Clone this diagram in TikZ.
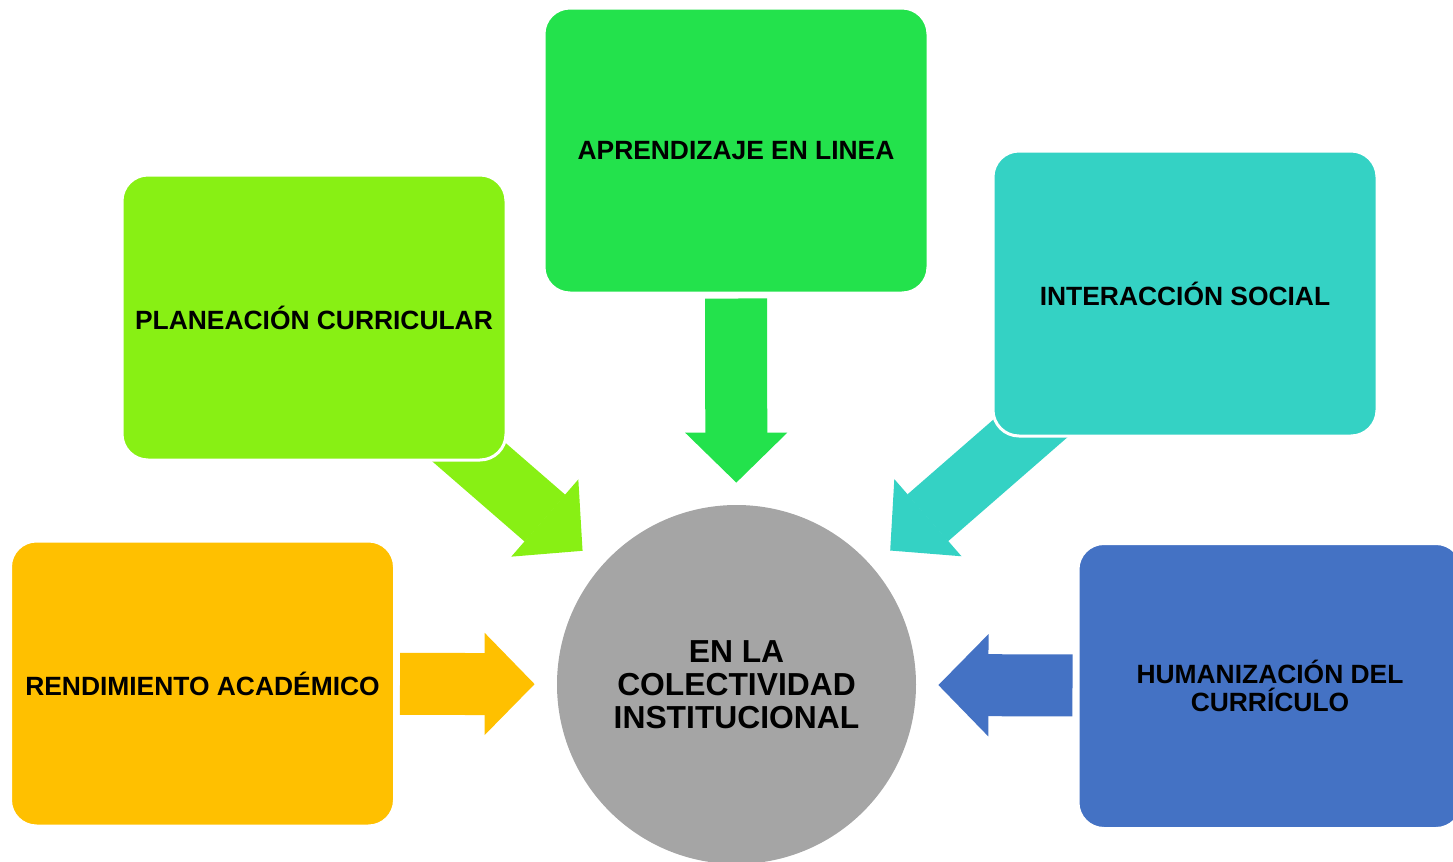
\documentclass[tikz,border=0pt]{standalone}
\usepackage{fontspec}
\setmainfont{Liberation Sans}
\usetikzlibrary{arrows.meta, positioning, backgrounds}

\definecolor{aprgreen}{HTML}{23E24C}
\definecolor{plangreen}{HTML}{88F014}
\definecolor{interteal}{HTML}{34D2C4}
\definecolor{rendorange}{HTML}{FFC000}
\definecolor{humblue}{HTML}{4472C4}
\definecolor{hubgray}{HTML}{A5A5A5}

\begin{document}
\begin{tikzpicture}[x=0.5pt, y=-0.5pt,
  box/.style={rectangle, rounded corners=13pt, draw=white, line width=1.5pt,
    minimum width=192pt, minimum height=142.5pt, inner sep=0pt, align=center,
    font=\fontsize{13.2}{14}\selectfont\bfseries},
  hub/.style={circle, fill=hubgray, minimum size=179.5pt, inner sep=0pt, align=center,
    font=\fontsize{15.9}{16.5}\selectfont\bfseries},
  flow/.style={line width=31pt, -{Triangle[length=25pt, width=51pt, line width=0.8pt]},
    shorten >=11pt, shorten <=2pt},
  slant/.style={shorten <=-25pt, shorten >=12pt}]

\useasboundingbox (0,0) rectangle (1453,862);

\node[hub] (col) at (736.5,684.5) {EN LA\\COLECTIVIDAD\\INSTITUCIONAL};
\node[box, fill=aprgreen]   (apr)   at (736,150.5)   {APRENDIZAJE EN LINEA};
\node[box, fill=plangreen]  (plan)  at (314,317.5)   {PLANEACIÓN CURRICULAR};
\node[box, fill=interteal]  (inter) at (1185,293.5)  {INTERACCIÓN SOCIAL};
\node[box, fill=rendorange] (rend)  at (202.5,683.5) {RENDIMIENTO ACADÉMICO};
\node[box, fill=humblue]    (hum)   at (1270,686)    {HUMANIZACIÓN DEL\\CURRÍCULO};

\begin{scope}[on background layer]
\draw[flow, aprgreen] (apr) -- (col);
\draw[flow, slant, plangreen] (plan) -- (col);
\draw[flow, slant, interteal] (inter) -- (col);
\draw[flow, rendorange] (rend) -- (col);
\draw[flow, humblue] (hum) -- (col);
\end{scope}

\end{tikzpicture}
\end{document}
